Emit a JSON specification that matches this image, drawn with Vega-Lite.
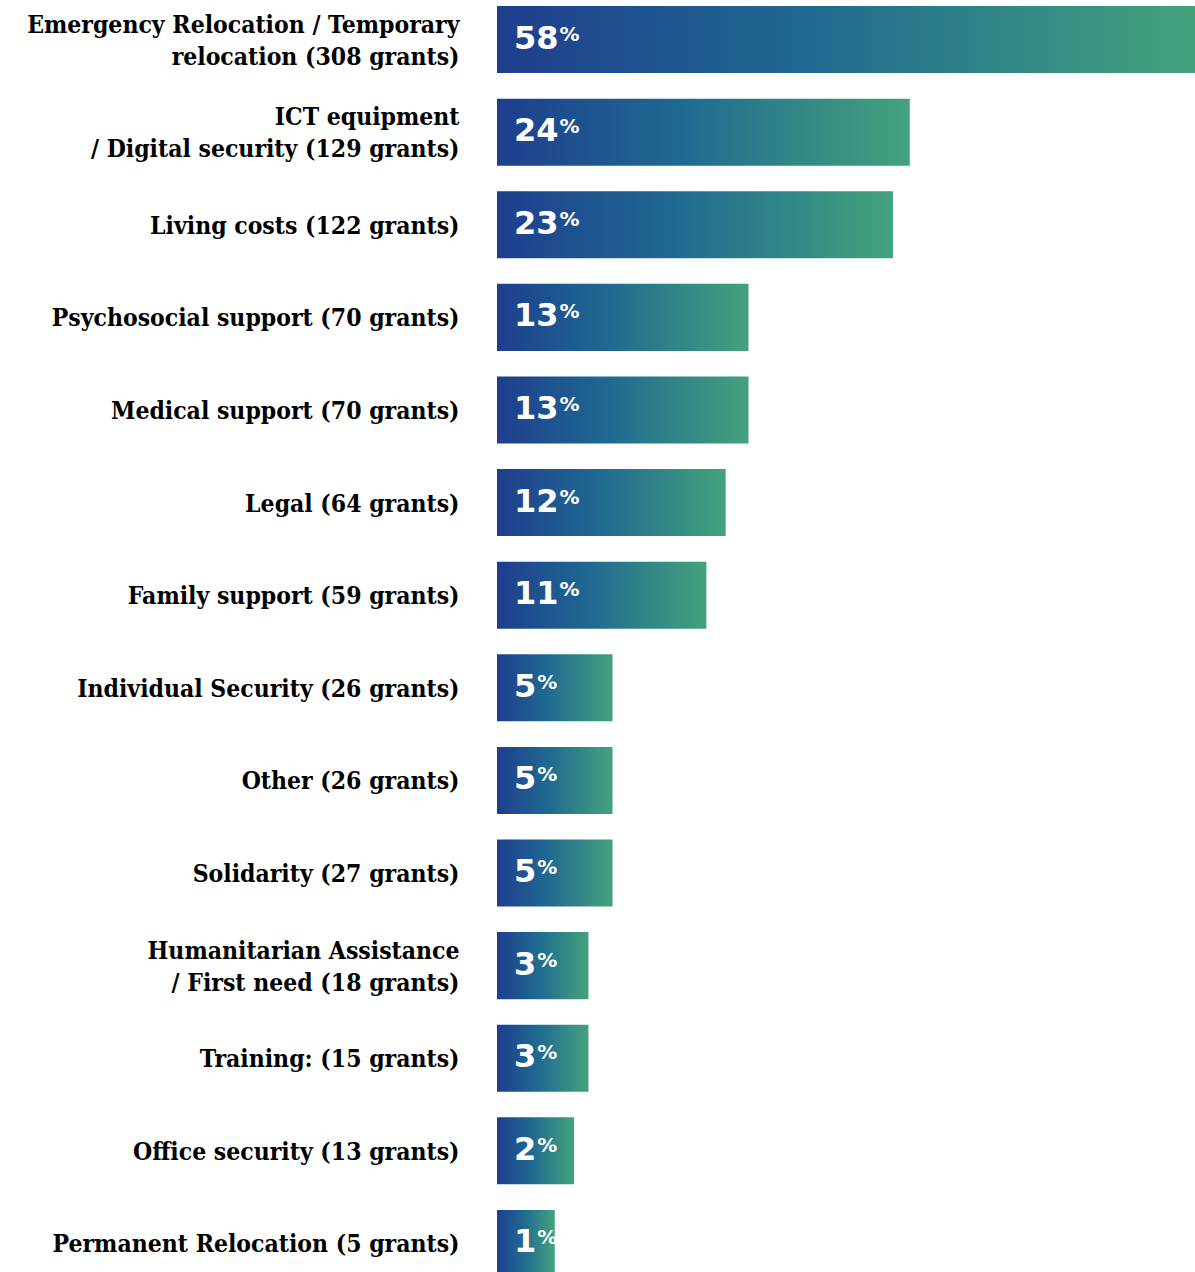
{
  "$schema": "https://vega.github.io/schema/vega-lite/v6.json",
  "width": 698,
  "height": 1283,
  "autosize": "none",
  "padding": {"left": 497, "right": 0, "top": 0, "bottom": 0},
  "background": "white",
  "config": {"view": {"stroke": null}},
  "data": {
    "values": [
      {"label": "Emergency Relocation / Temporary|relocation (308 grants)", "pct": 58, "value": 58},
      {"label": "ICT equipment|/ Digital security (129 grants)", "pct": 24, "value": 34.3},
      {"label": "Living costs (122 grants)", "pct": 23, "value": 32.9},
      {"label": "Psychosocial support (70 grants)", "pct": 13, "value": 20.9},
      {"label": "Medical support (70 grants)", "pct": 13, "value": 20.9},
      {"label": "Legal (64 grants)", "pct": 12, "value": 19.0},
      {"label": "Family support (59 grants)", "pct": 11, "value": 17.4},
      {"label": "Individual Security (26 grants)", "pct": 5, "value": 9.6},
      {"label": "Other (26 grants)", "pct": 5, "value": 9.6},
      {"label": "Solidarity (27 grants)", "pct": 5, "value": 9.6},
      {"label": "Humanitarian Assistance|/ First need (18 grants)", "pct": 3, "value": 7.6},
      {"label": "Training: (15 grants)", "pct": 3, "value": 7.6},
      {"label": "Office security (13 grants)", "pct": 2, "value": 6.4},
      {"label": "Permanent Relocation (5 grants)", "pct": 1, "value": 4.8}
    ]
  },
  "encoding": {
    "y": {
      "field": "label",
      "type": "nominal",
      "sort": null,
      "scale": {"paddingInner": 0.276, "paddingOuter": 0.065},
      "axis": {
        "title": null,
        "domain": false,
        "ticks": false,
        "labelPadding": 38,
        "labelFont": "DejaVu Serif Condensed",
        "labelFontWeight": "bold",
        "labelFontSize": 24.5,
        "labelColor": "#000000",
        "labelLimit": 0,
        "labelLineHeight": 32,
        "labelOffset": {"condition": {"test": "indexof(datum.label, '|') >= 0", "value": -14}, "value": 2},
        "labelExpr": "split(datum.label, '|')"
      }
    }
  },
  "layer": [
    {
      "mark": {
        "type": "bar",
        "color": {
          "gradient": "linear",
          "x1": 0, "x2": 1, "y1": 0, "y2": 0,
          "stops": [
            {"offset": 0, "color": "#1e3e8e"},
            {"offset": 0.45, "color": "#1f6a91"},
            {"offset": 1, "color": "#44a27c"}
          ]
        }
      },
      "encoding": {
        "x": {"field": "value", "type": "quantitative", "scale": {"domain": [0, 58], "nice": false, "zero": true}, "axis": null}
      }
    },
    {
      "mark": {"type": "text", "align": "left", "baseline": "alphabetic", "dx": 17, "dy": 9, "font": "DejaVu Sans", "fontWeight": "bold", "fontSize": 32, "color": "white"},
      "encoding": {
        "x": {"datum": 0, "type": "quantitative"},
        "text": {"field": "pct", "type": "quantitative"}
      }
    },
    {
      "mark": {"type": "text", "align": "left", "baseline": "alphabetic", "dx": {"expr": "18 + (datum.pct >= 10 ? 2 : 1) * 22.3"}, "dy": 1, "font": "DejaVu Sans", "fontWeight": "bold", "fontSize": 20, "color": "white", "text": "%"},
      "encoding": {
        "x": {"datum": 0, "type": "quantitative"}
      }
    }
  ]
}
